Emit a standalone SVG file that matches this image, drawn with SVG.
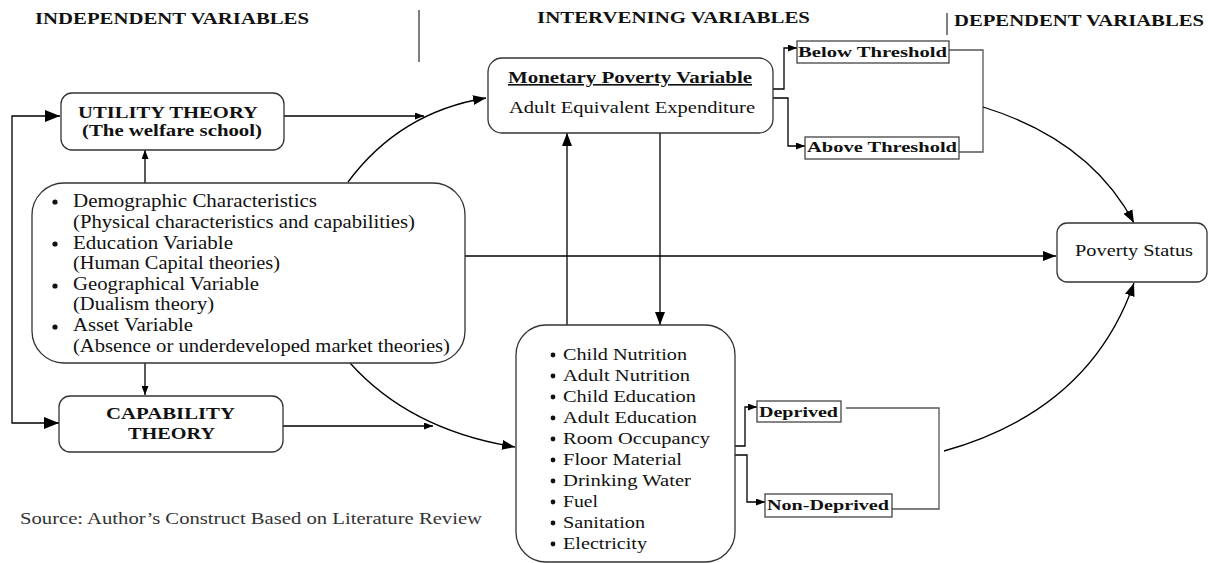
<svg xmlns="http://www.w3.org/2000/svg" width="1208" height="563" viewBox="0 0 1208 563">
<style>
text{font-family:"Liberation Serif","Times New Roman",serif;fill:#111}
.b{font-weight:bold}
.box{fill:#fff;stroke:#333;stroke-width:1.3}
.sbox{fill:#fff;stroke:#444;stroke-width:1.3}
.c{fill:none;stroke:#000;stroke-width:1.3}
.g{fill:none;stroke:#555;stroke-width:1.3}
</style>
<defs>
<marker id="aL" markerUnits="userSpaceOnUse" markerWidth="16" markerHeight="12" refX="15" refY="6" orient="auto-start-reverse"><path d="M0,0 L15,6 L0,12 Z" fill="#000"/></marker>
<marker id="aM" markerUnits="userSpaceOnUse" markerWidth="14" markerHeight="10" refX="13" refY="5" orient="auto"><path d="M0,0 L13,5 L0,10 Z" fill="#000"/></marker>
<marker id="aS" markerUnits="userSpaceOnUse" markerWidth="9" markerHeight="7" refX="9" refY="3.5" orient="auto"><path d="M0,0 L9,3.5 L0,7 Z" fill="#000"/></marker>
</defs>

<g id="headers">
<text class="b" x="35" y="24" font-size="17.5" textLength="274" lengthAdjust="spacingAndGlyphs">INDEPENDENT VARIABLES</text>
<text class="b" x="537" y="23" font-size="17.5" textLength="273" lengthAdjust="spacingAndGlyphs">INTERVENING VARIABLES</text>
<text class="b" x="954" y="26" font-size="17.5" textLength="250" lengthAdjust="spacingAndGlyphs">DEPENDENT VARIABLES</text>
<line x1="419" y1="10" x2="419" y2="62" stroke="#555" stroke-width="1.5"/>
<line x1="947" y1="13" x2="947" y2="35" stroke="#555" stroke-width="1.5"/>
</g>

<g id="connectors">
<path class="c" d="M60,116 L12,116 L12,423 L59,423" marker-start="url(#aL)" marker-end="url(#aL)"/>
<path class="c" d="M284,116 L424,116" marker-end="url(#aS)"/>
<path class="c" d="M145,183 L145,150" marker-end="url(#aS)"/>
<path class="c" d="M145,363 L145,395" marker-end="url(#aS)"/>
<path class="c" d="M283,426 L433,426" marker-end="url(#aS)"/>
<path class="c" d="M348,182 Q400,112 486,98" marker-end="url(#aM)"/>
<path class="c" d="M350,363 Q410,430 515,447" marker-end="url(#aM)"/>
<path class="c" d="M465,256 L1056,256" marker-end="url(#aM)"/>
<path class="c" d="M567,325 L567,133" marker-end="url(#aM)"/>
<path class="c" d="M660,133 L660,325" marker-end="url(#aM)"/>
<path class="c" d="M772,89 L784,89 L784,48 L797,48" marker-end="url(#aS)"/>
<path class="c" d="M772,98 L788,98 L788,146 L805,146" marker-end="url(#aS)"/>
<path class="g" d="M949,50 L983,50 L983,152 L959,152"/>
<path class="c" d="M983,107 Q1090,140 1134,223" marker-end="url(#aM)"/>
<path class="c" d="M730,446 L745,446 L745,407 L757,407" marker-end="url(#aS)"/>
<path class="c" d="M735,455 L747,455 L747,502 L765,502" marker-end="url(#aS)"/>
<path class="g" d="M846,408 L939,408 L939,509 L892,509"/>
<path class="c" d="M944,451 Q1090,410 1134,283" marker-end="url(#aM)"/>
</g>

<g id="utility">
<rect class="box" x="61" y="93" width="223" height="57" rx="11"/>
<text class="b" x="78" y="118" font-size="17" textLength="180" lengthAdjust="spacingAndGlyphs">UTILITY THEORY</text>
<text class="b" x="82" y="136" font-size="17" textLength="180" lengthAdjust="spacingAndGlyphs">(The welfare school)</text>
</g>

<g id="determinants">
<rect class="box" x="32" y="183" width="433" height="180" rx="32"/>
<g fill="#111">
<circle cx="55" cy="202" r="2.6"/><circle cx="55" cy="244" r="2.6"/><circle cx="55" cy="286" r="2.6"/><circle cx="55" cy="327" r="2.6"/>
</g>
<text x="73" y="207" font-size="18" textLength="244" lengthAdjust="spacingAndGlyphs">Demographic  Characteristics</text>
<text x="73" y="228" font-size="18" textLength="342" lengthAdjust="spacingAndGlyphs">(Physical characteristics and capabilities)</text>
<text x="73" y="249" font-size="18" textLength="160" lengthAdjust="spacingAndGlyphs">Education Variable</text>
<text x="73" y="269" font-size="18" textLength="207" lengthAdjust="spacingAndGlyphs">(Human Capital theories)</text>
<text x="73" y="290" font-size="18" textLength="186" lengthAdjust="spacingAndGlyphs">Geographical Variable</text>
<text x="73" y="310" font-size="18" textLength="141" lengthAdjust="spacingAndGlyphs">(Dualism theory)</text>
<text x="73" y="331" font-size="18" textLength="120" lengthAdjust="spacingAndGlyphs">Asset Variable</text>
<text x="73" y="352" font-size="18" textLength="377" lengthAdjust="spacingAndGlyphs">(Absence or underdeveloped market theories)</text>
</g>

<g id="capability">
<rect class="box" x="59" y="396" width="224" height="56" rx="11"/>
<text class="b" x="106" y="419" font-size="17.5" textLength="129" lengthAdjust="spacingAndGlyphs">CAPABILITY</text>
<text class="b" x="128" y="439" font-size="17.5" textLength="87" lengthAdjust="spacingAndGlyphs">THEORY</text>
</g>

<g id="monetary">
<rect class="box" x="488" y="58" width="285" height="75" rx="14"/>
<text class="b" x="508" y="83" font-size="16" textLength="244" lengthAdjust="spacingAndGlyphs" text-decoration="underline">Monetary Poverty Variable</text>
<text x="509" y="113" font-size="16.5" textLength="246" lengthAdjust="spacingAndGlyphs">Adult Equivalent Expenditure</text>
</g>

<g id="below-threshold">
<rect class="sbox" x="797" y="41" width="152" height="22"/>
<text class="b" x="798" y="57" font-size="15" textLength="149" lengthAdjust="spacingAndGlyphs">Below Threshold</text>
</g>

<g id="above-threshold">
<rect class="sbox" x="805" y="137" width="154" height="22"/>
<text class="b" x="807" y="152" font-size="15" textLength="150" lengthAdjust="spacingAndGlyphs">Above Threshold</text>
</g>

<g id="poverty-status">
<rect class="box" x="1057" y="223" width="150" height="59" rx="10"/>
<text x="1075" y="256" font-size="16.5" textLength="118" lengthAdjust="spacingAndGlyphs">Poverty Status</text>
</g>

<g id="dimensions">
<rect class="box" x="516" y="325" width="219" height="237" rx="30"/>
<g fill="#111">
<circle cx="553" cy="355" r="2.4"/><circle cx="553" cy="376" r="2.4"/><circle cx="553" cy="397" r="2.4"/><circle cx="553" cy="418" r="2.4"/><circle cx="553" cy="439" r="2.4"/><circle cx="553" cy="460" r="2.4"/><circle cx="553" cy="481" r="2.4"/><circle cx="553" cy="502" r="2.4"/><circle cx="553" cy="523" r="2.4"/><circle cx="553" cy="544" r="2.4"/>
</g>
<text x="563" y="360" font-size="16.5" textLength="124" lengthAdjust="spacingAndGlyphs">Child Nutrition</text>
<text x="563" y="381" font-size="16.5" textLength="127" lengthAdjust="spacingAndGlyphs">Adult Nutrition</text>
<text x="563" y="402" font-size="16.5" textLength="133" lengthAdjust="spacingAndGlyphs">Child Education</text>
<text x="563" y="423" font-size="16.5" textLength="134" lengthAdjust="spacingAndGlyphs">Adult Education</text>
<text x="563" y="444" font-size="16.5" textLength="147" lengthAdjust="spacingAndGlyphs">Room Occupancy</text>
<text x="563" y="465" font-size="16.5" textLength="119" lengthAdjust="spacingAndGlyphs">Floor Material</text>
<text x="563" y="486" font-size="16.5" textLength="128" lengthAdjust="spacingAndGlyphs">Drinking Water</text>
<text x="563" y="507" font-size="16.5" textLength="35" lengthAdjust="spacingAndGlyphs">Fuel</text>
<text x="563" y="528" font-size="16.5" textLength="82" lengthAdjust="spacingAndGlyphs">Sanitation</text>
<text x="563" y="549" font-size="16.5" textLength="84" lengthAdjust="spacingAndGlyphs">Electricity</text>
</g>

<g id="deprived">
<rect class="sbox" x="757" y="401" width="84" height="21"/>
<text class="b" x="759" y="417" font-size="15" textLength="79" lengthAdjust="spacingAndGlyphs">Deprived</text>
</g>

<g id="non-deprived">
<rect class="sbox" x="765" y="494" width="127" height="23"/>
<text class="b" x="767" y="510" font-size="15" textLength="122" lengthAdjust="spacingAndGlyphs">Non-Deprived</text>
</g>

<g id="source">
<text x="20" y="524" font-size="17.5" style="fill:#333" textLength="462" lengthAdjust="spacingAndGlyphs">Source: Author’s Construct Based on Literature Review</text>
</g>
</svg>
